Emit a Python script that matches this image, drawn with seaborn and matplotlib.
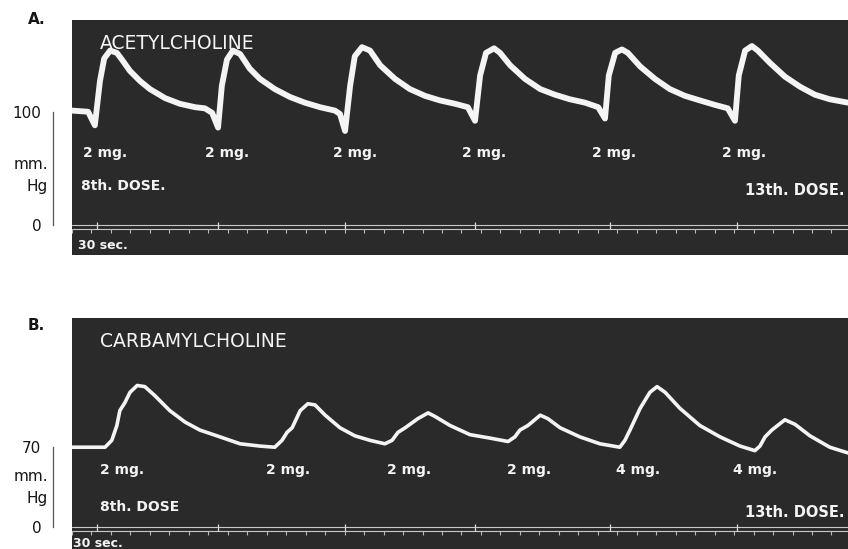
"""Kymograph records: blood pressure responses to repeated doses."""

import matplotlib
matplotlib.use("Agg")
import matplotlib.pyplot as plt
import matplotlib.transforms as mtransforms
import numpy as np
import pandas as pd
import seaborn as sns

# ---- Panel A: acetylcholine (time in sec, pressure in mm Hg)
acet_time = [0, 3.8, 5.4, 6.6, 7.6, 9.0, 10.6, 11.8, 13.7, 16.1, 18.4, 22.0, 25.5, 29.1, 31.4, 33.1, 34.5,
             35.4, 36.6, 38.0, 39.7, 42.0, 44.4, 47.9, 51.5, 55.0, 58.6, 62.1, 63.3, 64.5,
             65.7, 66.8, 68.5, 70.4, 72.8, 76.3, 79.8, 83.4, 86.9, 90.5, 93.5, 95.2,
             96.4, 97.8, 99.7, 101.1, 103.5, 107.0, 110.6, 114.1, 117.6, 121.2, 124.3, 125.9,
             126.8, 128.3, 129.9, 131.3, 134.2, 137.7, 141.2, 144.8, 148.3, 151.9, 154.9, 156.6,
             157.5, 159.0, 160.6, 162.0, 164.9, 168.4, 172.0, 175.5, 179.0, 183.3]
acet_bp = [101, 100, 88, 127, 147, 154, 152, 146, 136, 127, 120, 112, 107, 104, 103, 99, 86,
           123, 146, 154, 151, 138, 129, 120, 113, 108, 104, 101, 98, 83,
           123, 149, 157, 154, 141, 129, 120, 114, 110, 107, 104, 92,
           132, 152, 156, 152, 141, 129, 120, 115, 111, 108, 104, 94,
           132, 152, 155, 152, 140, 129, 120, 114, 110, 106, 103, 92,
           132, 154, 158, 154, 143, 131, 122, 115, 111, 108]
acet_doses = ["2 mg.", "2 mg.", "2 mg.", "2 mg.", "2 mg.", "2 mg."]
acet_dose_t = [2.6, 31.4, 61.6, 92.1, 122.8, 153.5]

# ---- Panel B: carbamylcholine
carb_time = [0, 7.8, 9.4, 10.6, 11.3, 12.5, 13.7, 15.4, 17.2, 19.6, 23.1, 26.7, 30.2, 35.0, 39.7, 44.4, 47.9,
             49.6, 50.8, 52.0, 53.9, 55.7, 57.4, 59.8, 63.3, 66.8, 70.4, 73.9,
             75.6, 77.0, 78.7, 81.7, 84.1, 85.7, 89.3, 94.0, 98.7, 103.0,
             104.6, 105.8, 107.7, 110.6, 112.4, 115.3, 120.0, 124.7, 129.4,
             130.6, 131.8, 134.2, 136.5, 138.2, 140.1, 143.6, 148.3, 153.1, 157.8, 161.3,
             162.5, 163.7, 165.3, 168.4, 170.8, 174.3, 179.0, 183.3]
carb_bp = [70, 70, 76, 89, 102, 109, 118, 124, 123, 115, 102, 92, 85, 79, 73, 71, 70,
           76, 83, 87, 102, 108, 107, 98, 87, 80, 76, 73,
           76, 83, 87, 95, 100, 97, 89, 81, 78, 75,
           79, 85, 89, 98, 95, 87, 79, 73, 70,
           76, 85, 104, 118, 123, 118, 104, 89, 79, 71, 67,
           71, 79, 85, 94, 90, 80, 70, 65]
carb_doses = ["2 mg.", "2 mg.", "2 mg.", "2 mg.", "4 mg.", "4 mg."]
carb_dose_t = [6.6, 45.8, 74.4, 102.8, 128.5, 156.1]

# time marker: large ticks every 30 sec
marker_big = [5.9, 34.5, 64.5, 95.2, 127.1, 157.1]

BG = "#2a2a2a"
FG = "#f4f4f4"
INK = "#151515"

sns.set_style("white")
plt.rcParams["font.family"] = ["DejaVu Sans"]

fig = plt.figure(figsize=(8.48, 5.49), dpi=100)
ax_a = fig.add_axes([72 / 848, 294 / 549, 776 / 848, 235 / 549])
ax_b = fig.add_axes([72 / 848, 0, 776 / 848, 231 / 549])


def setup_panel(ax, ylim, top_tick, name, first, last, letter, letter_va, unit_y):
    ax.set_facecolor(BG)
    ax.set_xlim(0, 183.3)
    ax.set_ylim(*ylim)
    for s in ["top", "right", "bottom"]:
        ax.spines[s].set_visible(False)
    ax.spines["left"].set_position(("outward", 14))
    ax.spines["left"].set_bounds(0, top_tick)
    ax.spines["left"].set_color("#555555")
    ax.spines["left"].set_linewidth(0.9)
    ax.set_yticks([0, top_tick])
    ax.set_yticklabels(["0", str(top_tick)])
    ax.tick_params(axis="y", direction="in", length=14, width=0.9, color="#777777",
                   pad=8, labelsize=11, labelcolor=INK)
    ax.set_xticks([])
    ax.set_xlabel("")
    ax.set_ylabel("")

    # time marker strip
    ax.axhline(0, color="#c8c8c8", lw=0.8)
    ax.axhline(-3.5, color="#c8c8c8", lw=0.8)
    small = np.arange(0, 184, 4.6)
    ax.vlines(small, -7, -3.5, color="#bbbbbb", lw=0.8)
    ax.vlines(marker_big, -3.5, 3, color="#dddddd", lw=0.9)

    ax.text(0.036, 0.90, name, transform=ax.transAxes, color=FG, fontsize=13.5,
            ha="left", va="center")
    ax.text(first[2], first[1], first[0], transform=ax.transAxes, color=FG, fontsize=10,
            fontweight="bold", ha="left", va="center")
    ax.text(0.995, last[1], last[0], transform=ax.transAxes, color=FG, fontsize=10.5,
            fontweight="bold", ha="right", va="center")
    trans = mtransforms.blended_transform_factory(ax.transAxes, ax.transData)
    ax.text(-0.031, unit_y, "mm.\nHg", transform=trans, color=INK,
            fontsize=11, ha="right", va="center", linespacing=1.6)
    ax.text(-0.046, 1.0, letter, transform=ax.transAxes, color=INK, fontsize=11,
            fontweight="bold", ha="center", va=letter_va)


df_a = pd.DataFrame({"t": acet_time, "bp": acet_bp})
sns.lineplot(data=df_a, x="t", y="bp", ax=ax_a, color=FG, lw=4.2,
             solid_joinstyle="round", solid_capstyle="round")
setup_panel(ax_a, (-26.5, 181), 100, "ACETYLCHOLINE",
            ("8th. DOSE.", 0.295, 0.012), ("13th. DOSE.", 0.275), "A.", "center", 44)
for lab, t in zip(acet_doses, acet_dose_t):
    ax_a.text(t, 64, lab, color=FG, fontsize=10, fontweight="bold", ha="left", va="center")
ax_a.text(1.3, -18, "30 sec.", color=FG, fontsize=9, fontweight="bold", ha="left", va="center")

df_b = pd.DataFrame({"t": carb_time, "bp": carb_bp})
sns.lineplot(data=df_b, x="t", y="bp", ax=ax_b, color=FG, lw=2.6,
             solid_joinstyle="round", solid_capstyle="round")
setup_panel(ax_b, (-19, 183), 70, "CARBAMYLCHOLINE",
            ("8th. DOSE", 0.18, 0.036), ("13th. DOSE.", 0.16), "B.", "top", 35)
for lab, t in zip(carb_doses, carb_dose_t):
    ax_b.text(t, 50, lab, color=FG, fontsize=10, fontweight="bold", ha="left", va="center")
ax_b.text(0.2, -14.3, "30 sec.", color=FG, fontsize=9, fontweight="bold", ha="left", va="center")

fig.savefig("out.png", dpi=100, facecolor="white")
